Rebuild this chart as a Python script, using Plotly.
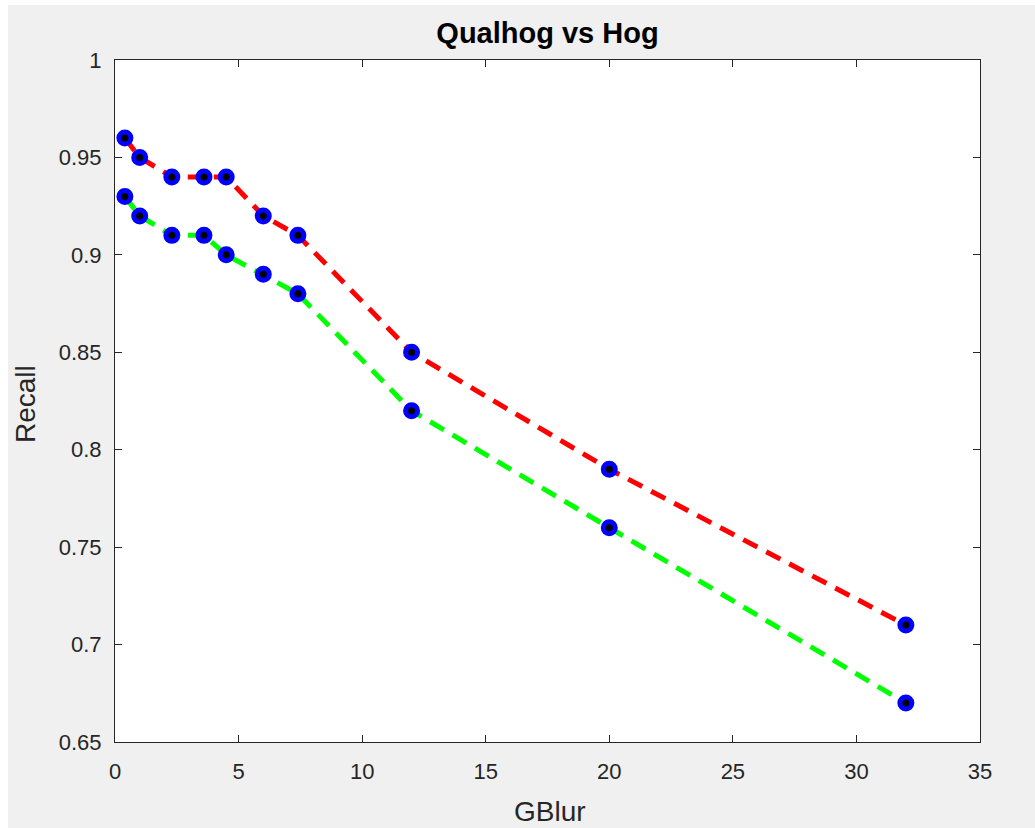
import plotly.graph_objects as go

gblur = [0.4, 1, 2.3, 3.6, 4.5, 6, 7.4, 12, 20, 32]
qualhog = [0.96, 0.95, 0.94, 0.94, 0.94, 0.92, 0.91, 0.85, 0.79, 0.71]
hog = [0.93, 0.92, 0.91, 0.91, 0.90, 0.89, 0.88, 0.82, 0.76, 0.67]

x_ticks = [0, 5, 10, 15, 20, 25, 30, 35]
y_ticks = [0.65, 0.7, 0.75, 0.8, 0.85, 0.9, 0.95, 1]
y_tick_text = ["0.65", "0.7", "0.75", "0.8", "0.85", "0.9", "0.95", "1"]

W, H = 1035, 828
L, R, T, B = 115, 55, 60, 86
pw, ph = W - L - R, H - T - B

FONT = "Liberation Sans, Arial, sans-serif"
TXT = "#262626"

marker = dict(symbol="circle", size=12, color="black", line=dict(color="#0000ff", width=5))

fig = go.Figure()
fig.add_trace(go.Scatter(x=gblur, y=qualhog, mode="lines+markers", name="Qualhog",
                         line=dict(color="#ff0000", width=5, dash="16px,10px"),
                         marker=marker))
fig.add_trace(go.Scatter(x=gblur, y=hog, mode="lines+markers", name="Hog",
                         line=dict(color="#00ff00", width=5, dash="16px,10px"),
                         marker=marker))

# gray figure background with thin white border at top/left
fig.add_shape(type="rect", xref="paper", yref="paper", layer="below",
              x0=(8 - L) / pw, x1=(W - L) / pw,
              y0=-B / ph, y1=(H - 5 - B) / ph,
              fillcolor="#f0f0f0", line=dict(width=0))
# white plot area
fig.add_shape(type="rect", xref="paper", yref="paper", layer="below",
              x0=0, x1=1, y0=0, y1=1,
              fillcolor="white", line=dict(width=0))

# axis titles as annotations (pixel-placed)
fig.add_annotation(text="GBlur", xref="paper", yref="paper", x=(550 - L) / pw, y=-(812 - (H - B)) / ph,
                   showarrow=False, xanchor="center", yanchor="middle",
                   font=dict(family=FONT, size=28, color=TXT))
fig.add_annotation(text="Recall", xref="paper", yref="paper", x=-(L - 25) / pw, y=(H - B - 404) / ph,
                   showarrow=False, xanchor="center", yanchor="middle", textangle=-90,
                   font=dict(family=FONT, size=28, color=TXT))

tickfont = dict(family=FONT, size=22, color=TXT)
fig.update_layout(
    width=W, height=H,
    margin=dict(l=L, r=R, t=T, b=B),
    paper_bgcolor="white",
    plot_bgcolor="white",
    showlegend=False,
    title=dict(text="<b>Qualhog vs Hog</b>", x=(L + pw / 2) / W, xanchor="center",
               y=1 - 33 / H, yanchor="middle",
               font=dict(family=FONT, size=29, color="black")),
    xaxis=dict(range=[0, 35], tickvals=x_ticks, showgrid=False, zeroline=False,
               showline=True, linecolor=TXT, linewidth=1, mirror="ticks",
               ticks="inside", ticklen=7, tickcolor=TXT, tickfont=tickfont,
               ticklabelstandoff=10),
    yaxis=dict(range=[0.65, 1], tickvals=y_ticks, ticktext=y_tick_text, showgrid=False, zeroline=False,
               showline=True, linecolor=TXT, linewidth=1, mirror="ticks",
               ticks="inside", ticklen=7, tickcolor=TXT, tickfont=tickfont,
               ticklabelstandoff=8),
)

fig.write_html("out.html")
